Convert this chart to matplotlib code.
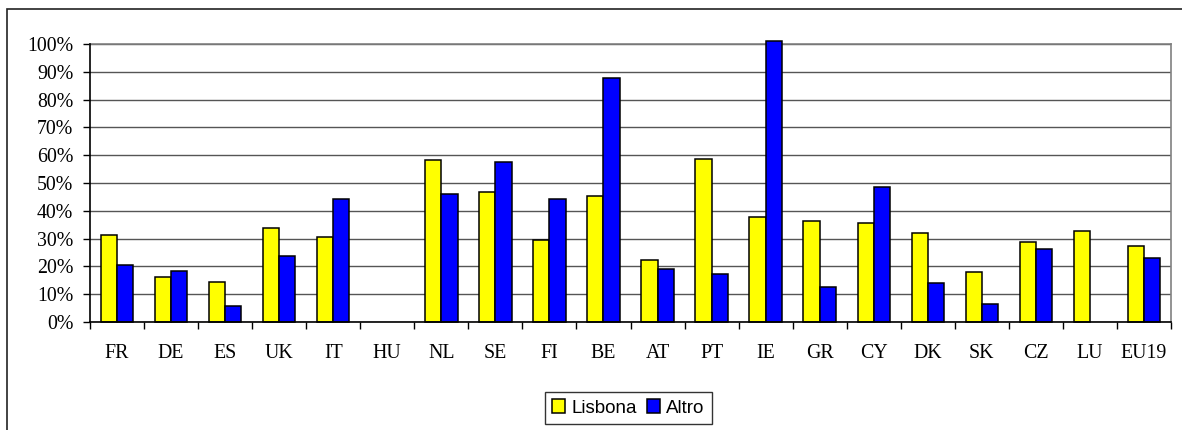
import matplotlib
matplotlib.use("Agg")
import matplotlib.pyplot as plt
from matplotlib.patches import Rectangle
import numpy as np

categories = ["FR", "DE", "ES", "UK", "IT", "HU", "NL", "SE", "FI", "BE",
              "AT", "PT", "IE", "GR", "CY", "DK", "SK", "CZ", "LU", "EU19"]
lisbona = [31.3, 16.1, 14.5, 33.8, 30.6, np.nan, 58.2, 46.6, 29.4, 45.3,
           22.4, 58.8, 37.7, 36.4, 35.7, 31.9, 17.9, 28.8, 32.7, 27.4]
altro = [20.4, 18.5, 5.8, 23.6, 44.1, np.nan, 46.0, 57.4, 44.1, 87.6,
         19.2, 17.3, 101.0, 12.7, 48.6, 14.0, 6.5, 26.4, np.nan, 23.0]
series_names = ["Lisbona", "Altro"]
yticks = list(range(0, 101, 10))
ytick_labels = [f"{v}%" for v in yticks]

W, H = 1182, 430
fig = plt.figure(figsize=(W / 100, H / 100), dpi=100)
fig.patch.set_facecolor("white")

# outer chart border
fig.add_artist(Rectangle((7 / W, 0 - 0.01), 1.1, (H - 9) / H + 0.01,
                         transform=fig.transFigure, fill=False,
                         edgecolor="#222222", linewidth=1.2))

ax = fig.add_axes([90 / W, (H - 322) / H, (1171 - 90) / W, (322 - 44) / H])
x = np.arange(len(categories))
bw = 0.3
ax.bar(x - bw / 2, lisbona, bw, color="#FFFF00", edgecolor="black",
       linewidth=1.1, label=series_names[0], clip_on=False, zorder=3)
ax.bar(x + bw / 2, altro, bw, color="#0000FF", edgecolor="black",
       linewidth=1.1, label=series_names[1], clip_on=False, zorder=3)

ax.set_xlim(-0.5, len(categories) - 0.5)
ax.set_ylim(0, 100)
ax.set_yticks(yticks)
ax.set_yticklabels(ytick_labels, family="Liberation Serif", fontsize=14.3)
ax.set_xticks(x)
ax.set_xticklabels(categories, family="Liberation Serif", fontsize=14.3)
ax.tick_params(axis="x", which="major", length=0, pad=16)
ax.set_xticks(np.arange(-0.5, len(categories), 1.0), minor=True)
ax.tick_params(axis="x", which="minor", length=5, width=1, direction="out", color="black")
ax.tick_params(axis="y", length=5, width=1, direction="out", pad=7, color="black")

ax.yaxis.grid(True, color="#555555", linewidth=1, zorder=0)
ax.set_axisbelow(True)
for s in ["left", "bottom"]:
    ax.spines[s].set_color("black")
    ax.spines[s].set_linewidth(1.2)
    ax.spines[s].set_zorder(4)
for s in ["right", "top"]:
    ax.spines[s].set_color("#808080")
    ax.spines[s].set_linewidth(1.2)

leg = fig.legend(loc="center", bbox_to_anchor=(628.5 / W, (H - 408) / H),
                 ncol=2, prop={"family": "Liberation Sans", "size": 13.5},
                 frameon=True, fancybox=False, edgecolor="black",
                 handlelength=0.7, handleheight=0.7, handletextpad=0.35,
                 columnspacing=0.5, borderpad=0.4)
leg.get_frame().set_linewidth(1.0)

fig.savefig("out.png", dpi=100, facecolor="white")
